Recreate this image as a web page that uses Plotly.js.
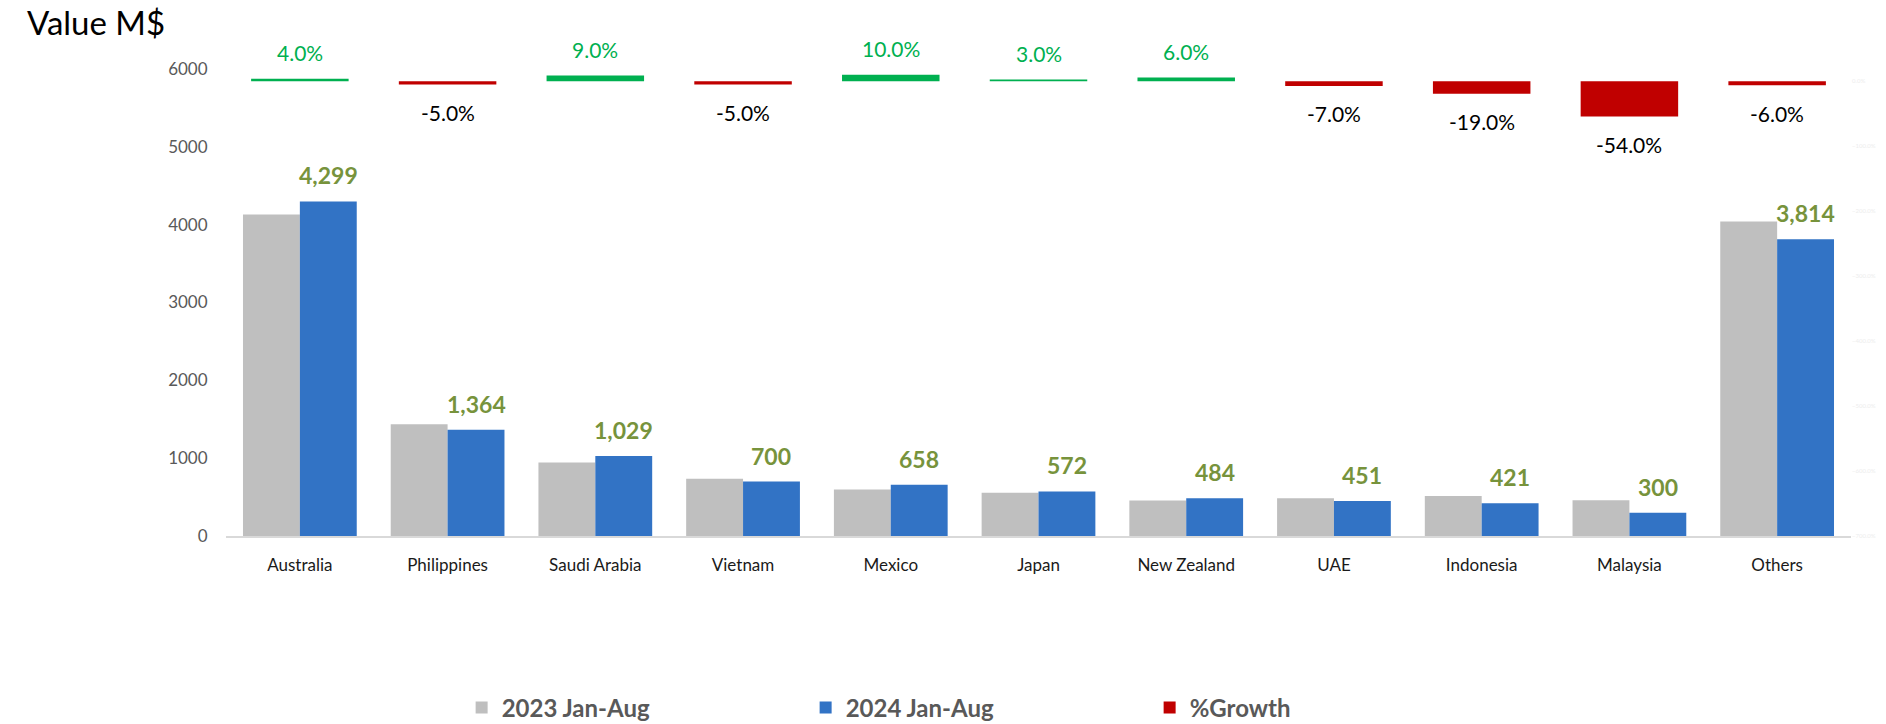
<!DOCTYPE html>
<html>
<head>
<meta charset="utf-8">
<script src="https://cdn.plot.ly/plotly-3.0.1.min.js"></script>
<style>
  html, body { margin: 0; padding: 0; background: #ffffff; }
  #chart { width: 1886px; height: 724px; }
</style>
</head>
<body>
<div id="chart"></div>
<script>
// ---- Data ----
const categories = ['Australia', 'Philippines', 'Saudi Arabia', 'Vietnam', 'Mexico', 'Japan',
                    'New Zealand', 'UAE', 'Indonesia', 'Malaysia', 'Others'];
const value2023 = [4130, 1436, 944, 737, 598, 555, 457, 485, 515, 460, 4040];
const value2024 = [4299, 1364, 1029, 700, 658, 572, 484, 451, 421, 300, 3814];
const growthPct = [4, -5, 9, -5, 10, 3, 6, -7, -19, -54, -6];
const yTicks = [0, 1000, 2000, 3000, 4000, 5000, 6000];

// ---- Styling ----
const W = 1886, H = 724;
const margin = { l: 226, r: 35, t: 69, b: 188, autoexpand: false };
const bargap = 0.23;
const plotW = W - margin.l - margin.r;
const catW = plotW / categories.length;
const blueShift = catW * (1 - bargap) / 4;   // centre of 2nd bar in a group of two
const growthW = 0.66;

const FONT = 'Lato, "Open Sans", sans-serif';
const GREEN = '#00B050', RED = '#C00000', OLIVE = '#77933C';

const growthFrac = growthPct.map(v => v / 100);
const posGrowth = growthFrac.map(v => v > 0 ? v : null);
const negGrowth = growthFrac.map(v => v < 0 ? v : null);

const traces = [
  {
    type: 'bar', name: '2023 Jan-Aug', x: categories, y: value2023,
    marker: { color: '#BFBFBF', line: { width: 0 } }, hoverinfo: 'skip'
  },
  {
    type: 'bar', name: '2024 Jan-Aug', x: categories, y: value2024,
    marker: { color: '#3273C5', line: { width: 0 } }, hoverinfo: 'skip'
  },
  {
    type: 'bar', name: '%Growth', x: categories, y: negGrowth, yaxis: 'y2',
    width: growthW, offset: -growthW / 2,
    marker: { color: RED, line: { width: 0 } }, hoverinfo: 'skip'
  },
  {
    type: 'bar', name: '%Growth (positive)', showlegend: false, x: categories, y: posGrowth, yaxis: 'y2',
    width: growthW, offset: -growthW / 2,
    marker: { color: GREEN, line: { width: 0 } }, hoverinfo: 'skip'
  }
];

const annotations = [];
categories.forEach((c, i) => {
  annotations.push({
    x: c, y: value2024[i], xref: 'x', yref: 'y',
    text: value2024[i].toLocaleString('en-US'),
    showarrow: false, xshift: blueShift, yshift: 26, yanchor: 'middle',
    font: { family: FONT, size: 23, color: OLIVE, weight: 'bold' }
  });
  const g = growthFrac[i];
  annotations.push({
    x: c, y: g, xref: 'x', yref: 'y2',
    text: growthPct[i].toFixed(1) + '%',
    showarrow: false, yanchor: 'middle', yshift: g >= 0 ? 26 : -28,
    font: { family: FONT, size: 21, color: g >= 0 ? GREEN : '#000000' }
  });
});

const layout = {
  width: W, height: H,
  margin: margin,
  paper_bgcolor: '#ffffff', plot_bgcolor: '#ffffff',
  font: { family: FONT },
  barmode: 'group', bargap: bargap, bargroupgap: 0,
  hovermode: false,
  title: {
    text: 'Value M$', x: 27 / W, xanchor: 'left', xref: 'container',
    y: 1 - 23 / H, yanchor: 'middle', yref: 'container',
    font: { family: FONT, size: 33, color: '#000000' }
  },
  xaxis: {
    type: 'category', showline: true, linecolor: '#D9D9D9', linewidth: 2,
    showgrid: false, zeroline: false,
    ticks: 'outside', ticklen: 13, tickcolor: 'rgba(0,0,0,0)',
    tickfont: { family: FONT, size: 17, color: '#1a1a1a' }
  },
  yaxis: {
    range: [0, 6000], tickvals: yTicks, ticktext: yTicks.map(String),
    showgrid: false, zeroline: false, showline: false,
    ticks: 'outside', ticklen: 14, tickcolor: 'rgba(0,0,0,0)',
    tickfont: { family: FONT, size: 17, color: '#595959' }
  },
  yaxis2: {
    overlaying: 'y', side: 'right', range: [-7, 0.19], dtick: 1, tickformat: '.1%',
    showgrid: false, zeroline: false, showline: false,
    tickfont: { family: FONT, size: 6, color: '#EDEDED' }
  },
  legend: {
    orientation: 'h', x: 0.145, xanchor: 'left',
    yref: 'container', y: 1 - 708 / H, yanchor: 'middle',
    entrywidth: 299, entrywidthmode: 'pixels',
    traceorder: 'normal',
    font: { family: FONT, size: 24, color: '#595959', weight: 'bold' }
  },
  annotations: annotations
};

Plotly.newPlot('chart', traces, layout, { displayModeBar: false, staticPlot: true });
</script>
</body>
</html>
